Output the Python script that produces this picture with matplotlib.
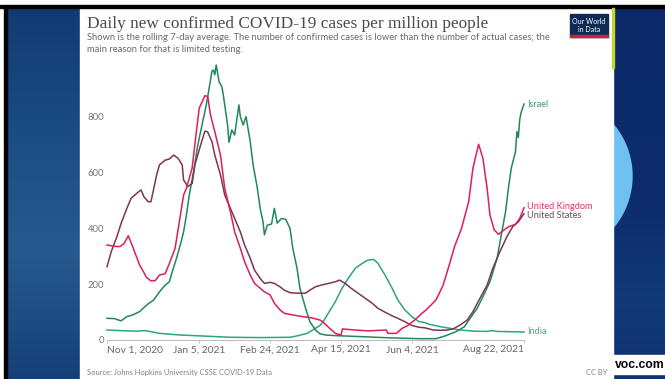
import numpy as np
import pandas as pd
import matplotlib
matplotlib.use("Agg")
import matplotlib.pyplot as plt
from matplotlib.patches import Rectangle, Circle
from matplotlib.colors import to_rgb

W, H = 665, 379
START = pd.Timestamp("2020-11-01")

# ---- data: day offsets from 2020-11-01 and 7-day average cases per million ----
uk_days = [0, 5, 9, 12, 15, 18, 23, 28, 31, 34, 37, 41, 44, 48, 51, 54, 56, 60, 63, 65,
           69, 71, 73, 76, 80, 83, 87, 90, 94, 97, 101, 104, 108, 111, 115, 118, 122, 125,
           131, 138, 144, 150, 152, 157, 161, 165, 166, 175, 184, 197, 198, 204, 208, 212,
           217, 222, 225, 232, 237, 242, 245, 250, 255, 258, 261, 262, 265, 268, 270, 273,
           276, 279, 283, 288, 291, 294]
uk_cases = [340, 335, 334, 345, 373, 335, 268, 223, 211, 212, 232, 237, 274, 328, 423, 519,
            543, 615, 746, 830, 875, 872, 805, 746, 662, 543, 459, 387, 328, 280, 232, 202,
            185, 172, 161, 131, 107, 95, 89, 83, 79, 71, 65, 41, 23, 17, 39, 35, 32, 35, 23,
            23, 41, 51, 71, 95, 107, 143, 196, 280, 334, 400, 495, 615, 680, 701, 651, 543,
            447, 394, 378, 390, 405, 414, 435, 473]

us_days = [0, 3, 7, 10, 14, 17, 21, 24, 26, 29, 31, 33, 35, 37, 41, 44, 47, 50, 53, 54,
           57, 60, 62, 66, 69, 71, 74, 76, 80, 83, 87, 90, 94, 97, 101, 104, 108, 111, 115,
           118, 122, 125, 129, 134, 140, 143, 147, 151, 156, 161, 164, 168, 172, 177, 182,
           187, 191, 196, 201, 205, 210, 215, 220, 224, 230, 235, 240, 244, 249, 254, 258,
           263, 268, 272, 277, 282, 286, 290, 294]
us_cases = [262, 316, 370, 418, 471, 507, 525, 537, 513, 495, 495, 543, 591, 627, 644, 648,
            662, 651, 627, 573, 549, 560, 627, 698, 748, 745, 710, 662, 591, 519, 471, 435,
            387, 340, 292, 250, 220, 202, 206, 202, 190, 178, 169, 167, 167, 178, 190, 196,
            202, 208, 214, 202, 185, 167, 149, 131, 113, 99, 86, 77, 65, 51, 45, 43, 35, 34,
            35, 39, 53, 71, 101, 149, 196, 256, 316, 370, 405, 423, 452]

israel_days = [0, 5, 10, 14, 18, 23, 28, 33, 37, 41, 44, 46, 49, 52, 54, 56, 58, 61, 64,
               68, 70, 72, 74, 75, 76, 77, 79, 81, 82, 83, 85, 86, 88, 90, 93, 94, 96, 98,
               101, 103, 106, 108, 110, 111, 113, 116, 118, 120, 123, 126, 129, 131, 134,
               136, 140, 143, 147, 150, 154, 161, 181, 199, 220, 232, 239, 246, 252, 256,
               261, 265, 270, 275, 278, 281, 283, 285, 288, 289, 290, 291, 292, 294]
israel_cases = [77, 76, 68, 83, 89, 101, 125, 143, 172, 196, 208, 244, 292, 346, 387, 447,
                519, 602, 698, 794, 842, 901, 963, 967, 950, 985, 925, 907, 877, 842, 770,
                708, 752, 734, 842, 800, 770, 800, 710, 627, 543, 471, 423, 376, 411, 415,
                471, 418, 435, 432, 400, 328, 256, 185, 113, 65, 35, 22, 17, 15, 11, 7, 4, 4,
                15, 29, 47, 77, 113, 154, 208, 292, 376, 459, 543, 615, 674, 746, 725, 790,
                815, 845]

india_days = [0, 9, 20, 27, 37, 52, 66, 87, 108, 129, 134, 141, 145, 150, 152, 156, 161,
              165, 170, 175, 180, 184, 188, 191, 196, 201, 205, 210, 215, 220, 224, 227, 235,
              242, 249, 259, 268, 271, 275, 294]
india_cases = [35, 33, 31, 33, 23, 17, 14, 9, 8, 9, 14, 23, 35, 51, 62, 95, 137, 178, 220,
               256, 274, 286, 288, 274, 232, 185, 143, 107, 83, 65, 62, 56, 47, 41, 35, 31,
               30, 33, 30, 28]

tick_dates = ["2020-11-01", "2021-01-05", "2021-02-24", "2021-04-15", "2021-06-04", "2021-08-22"]
tick_labels = ["Nov 1, 2020", "Jan 5, 2021", "Feb 24, 2021", "Apr 15, 2021", "Jun 4, 2021",
               "Aug 22, 2021"]
y_ticks = [0, 200, 400, 600, 800]

series = [
    ("India", india_days, india_cases, "#2aa683", "#3aae8e", 0.0),
    ("Israel", israel_days, israel_cases, "#1f8a57", "#3c9a6a", 0.0),
    ("United States", us_days, us_cases, "#7d3552", "#6a4a5c", -1.6),
    ("United Kingdom", uk_days, uk_cases, "#de1d5b", "#e0336e", 1.2),
]

fig = plt.figure(figsize=(W / 100, H / 100), dpi=100)

# ---- slide background drawn in pixel coordinates ----
bg = fig.add_axes([0, 0, 1, 1])
bg.set_xlim(0, W)
bg.set_ylim(H, 0)
bg.axis("off")


def vgradient(x0, x1, y0, y1, stops):
    ys = np.linspace(y0, y1, 200)
    pos = [s[0] for s in stops]
    cols = np.array([to_rgb(s[1]) for s in stops])
    img = np.stack([np.interp(ys, pos, cols[:, k]) for k in range(3)], axis=1)
    img = np.repeat(img[:, None, :], 2, axis=1)
    bg.imshow(img, extent=(x0, x1, y1, y0), aspect="auto", interpolation="bilinear", zorder=0)


bg.add_patch(Rectangle((0, 0), W, H, color="white", zorder=0))
vgradient(7, 80, 8, H, [(8, "#123a72"), (120, "#1a4a82"), (250, "#275a8e"), (379, "#153f78")])
vgradient(613, W, 8, H, [(8, "#0b2968"), (200, "#0c2c6c"), (300, "#123a76"), (379, "#0f3270")])
bg.add_patch(Circle((552, 176), 80, color="#6dc2f2", zorder=1))
bg.add_patch(Rectangle((80, 8), 533, H - 8, color="white", zorder=2))
bg.add_patch(Rectangle((0, 5), W, 3, color="black", zorder=3))
bg.add_patch(Rectangle((3.5, 8), 3.5, H - 8, color="black", zorder=3))
bg.add_patch(Rectangle((612.3, 8), 1.7, 60, color="#c4d62c", zorder=3))
bg.add_patch(Rectangle((613, 355), W - 613, 19, color="white", zorder=3))
bg.text(615, 365, "voc.com", fontsize=8.7, fontweight="bold", family="Liberation Sans",
        color="black", va="center", ha="left", zorder=4)

# ---- header ----
bg.text(87, 28, "Daily new confirmed COVID-19 cases per million people",
        family="Liberation Serif", fontsize=12.4, color="#4a4a4a", va="baseline", zorder=4)
bg.text(87, 40.5, "Shown is the rolling 7-day average. The number of confirmed cases is lower "
        "than the number of actual cases; the", family="Lato", fontsize=6.75, color="#6a6a6a",
        va="baseline", zorder=4)
bg.text(87, 51.5, "main reason for that is limited testing.", family="Lato", fontsize=6.75,
        color="#6a6a6a", va="baseline", zorder=4)

# logo
bg.add_patch(Rectangle((570, 14), 38, 23, color="#0f2a55", zorder=4))
bg.add_patch(Rectangle((570, 35), 38, 2.2, color="#d0212e", zorder=5))
bg.text(589, 21, "Our World", family="Lato", fontsize=5, color="white", ha="center",
        va="center", zorder=5)
bg.text(589, 29, "in Data", family="Lato", fontsize=5, color="white", ha="center",
        va="center", zorder=5)

# footer
bg.text(87, 375, "Source: Johns Hopkins University CSSE COVID-19 Data", family="Lato",
        fontsize=5.4, color="#808080", va="baseline", zorder=4)
bg.text(607, 375, "CC BY", family="Lato", fontsize=5.4, color="#808080", va="baseline",
        ha="right", zorder=4)

# ---- chart ----
x0_px, x1_px, y0_px = 107, 524, 339.8
ppu = 0.279
ax = fig.add_axes([x0_px / W, (H - y0_px) / H, (x1_px - x0_px) / W, 1000 * ppu / H])
ax.set_facecolor("none")
ax.set_zorder(5)

for name, days, vals, col, lcol, dy in series:
    dates = START + pd.to_timedelta(days, unit="D")
    ax.plot(dates, vals, color=col, lw=1.1, solid_joinstyle="round", clip_on=False)
    ax.annotate(name, xy=(dates[-1], vals[-1]), xytext=(2.3, dy), textcoords="offset points",
                va="center", ha="left", fontsize=6.6, family="Lato", color=lcol,
                annotation_clip=False)

ax.set_xlim(pd.Timestamp(tick_dates[0]), pd.Timestamp(tick_dates[-1]))
ax.set_ylim(0, 1000)
ax.set_xticks(pd.to_datetime(tick_dates))
ax.set_xticklabels(tick_labels, family="Lato", fontsize=7.4, color="#666666")
xl = ax.get_xticklabels()
xl[0].set_ha("left")
xl[-1].set_ha("right")
ax.set_yticks(y_ticks)
ax.set_yticklabels([str(v) for v in y_ticks], family="Lato", fontsize=6.8, color="#777777")
ax.tick_params(axis="y", length=0, pad=2.2)
ax.tick_params(axis="x", length=2.2, width=0.6, color="#bbbbbb", pad=1.8)
for s in ("top", "right", "left"):
    ax.spines[s].set_visible(False)
ax.spines["bottom"].set_color("#bbbbbb")
ax.spines["bottom"].set_linewidth(0.7)

fig.savefig("out.png", dpi=100)
